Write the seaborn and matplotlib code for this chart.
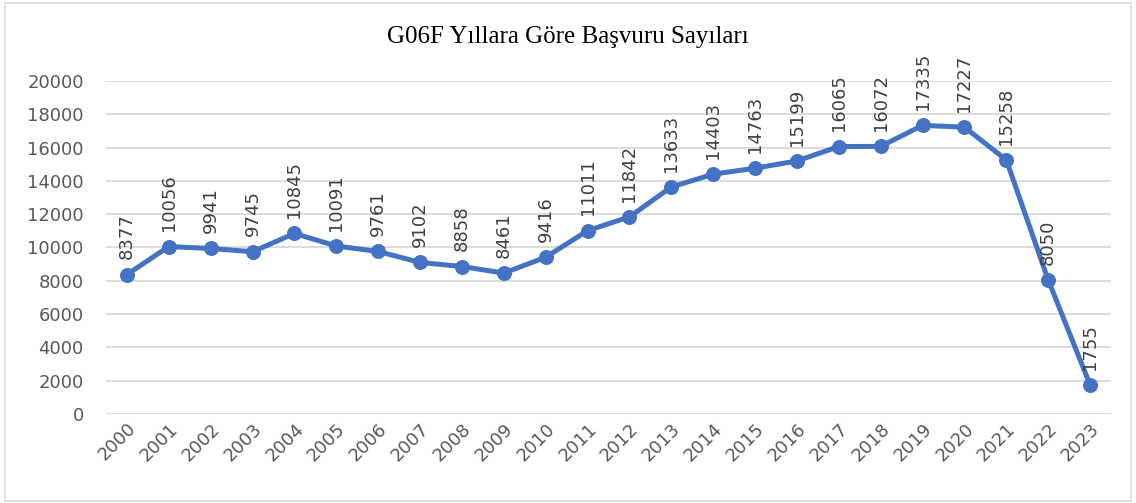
import matplotlib
matplotlib.use("Agg")
import matplotlib.pyplot as plt
import seaborn as sns
import pandas as pd
from matplotlib.patches import Rectangle

years = [str(y) for y in range(2000, 2024)]
values = [8377, 10056, 9941, 9745, 10845, 10091, 9761, 9102, 8858, 8461, 9416,
          11011, 11842, 13633, 14403, 14763, 15199, 16065, 16072, 17335, 17227,
          15258, 8050, 1755]
yticks = list(range(0, 20001, 2000))
title = "G06F Yıllara Göre Başvuru Sayıları"

df = pd.DataFrame({"year": years, "value": values})

sns.set_theme(style="white")
plt.rcParams['font.family'] = ['DejaVu Sans']

fig = plt.figure(figsize=(11.36, 5.03), dpi=100)
ax = fig.add_axes([106/1136, 1-414/503, (1111-106)/1136, (414-81)/503])

color = "#4472C4"
sns.lineplot(data=df, x="year", y="value", ax=ax, color=color, linewidth=3.6,
             marker="o", markersize=10, markeredgecolor=color, sort=False)

ax.set_xlim(-0.5, len(years) - 0.5)
ax.set_ylim(0, 20000)
ax.set_yticks(yticks)
ax.set_yticklabels([str(t) for t in yticks])
ax.yaxis.grid(True, color="#D9D9D9", linewidth=1.3)
ax.set_axisbelow(True)
for s in ax.spines.values():
    s.set_visible(False)
ax.set_xlabel("")
ax.set_ylabel("")
ax.tick_params(axis="y", labelsize=13, colors="#595959", length=0, pad=16)
ax.tick_params(axis="x", labelsize=13, colors="#595959", length=0, pad=4)
for lbl in ax.get_xticklabels():
    lbl.set_rotation(45)
    lbl.set_ha("right")
    lbl.set_va("top")
    lbl.set_rotation_mode("anchor")

for i, v in enumerate(values):
    ax.annotate(str(v), (i, v), xytext=(0, 11), textcoords="offset points",
                rotation=90, ha="center", va="bottom", fontsize=13,
                color="#404040", annotation_clip=False)

fig.text(568/1136, 1-37/503, title, ha="center", va="center",
         fontsize=18, family="Liberation Serif", color="black")

fig.patches.append(Rectangle((5/1136, 2/503), 1126/1136, 498/503,
                             transform=fig.transFigure, fill=False,
                             edgecolor="#D9D9D9", linewidth=1.2))

fig.savefig("out.png", dpi=100)
